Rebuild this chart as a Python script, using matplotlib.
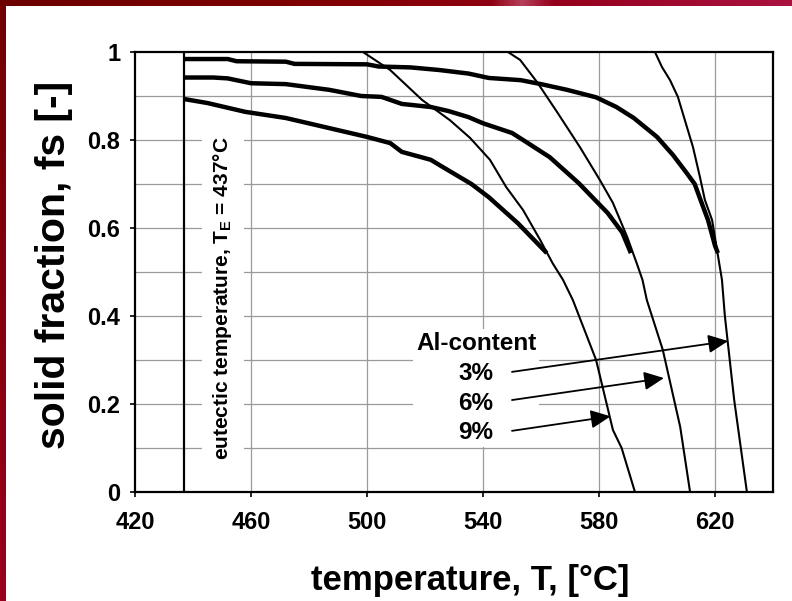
import numpy as np
import matplotlib

matplotlib.use("Agg")
import matplotlib.pyplot as plt
from matplotlib import font_manager
from matplotlib.colors import LinearSegmentedColormap

plt.rcParams.update(
    {
        "font.family": "Liberation Sans",
        "font.weight": "bold",
        "mathtext.fontset": "custom",
        "mathtext.rm": "Liberation Sans:bold",
        "mathtext.default": "rm",
    }
)

# ---------------------------------------------------------------------------
# Data (temperature in degC, solid fraction fs)
# ---------------------------------------------------------------------------

# thick curves (start at the eutectic temperature)
t_thick_3 = [437, 452, 455, 472, 475, 500, 504, 515, 525, 535, 542, 553, 560,
             569, 579, 586, 592, 600, 605.5, 610, 613, 615, 617.6, 620, 621]
fs_thick_3 = [0.984, 0.984, 0.979, 0.978, 0.973, 0.972, 0.967, 0.965, 0.959,
              0.951, 0.941, 0.936, 0.927, 0.914, 0.897, 0.875, 0.85, 0.807,
              0.766, 0.727, 0.70, 0.664, 0.618, 0.56, 0.543]

t_thick_6 = [437, 447, 452, 460, 472, 487, 498, 505, 512, 522, 528, 535, 540,
             550, 555, 563, 573, 583, 588, 591]
fs_thick_6 = [0.942, 0.942, 0.94, 0.929, 0.927, 0.914, 0.90, 0.898, 0.882,
              0.875, 0.866, 0.852, 0.838, 0.816, 0.795, 0.761, 0.702, 0.634,
              0.59, 0.543]

t_thick_9 = [437, 445, 458, 472, 487, 500, 508, 512, 522, 525, 536, 542, 552, 562]
fs_thick_9 = [0.893, 0.884, 0.864, 0.85, 0.827, 0.807, 0.793, 0.773, 0.755,
              0.743, 0.70, 0.67, 0.611, 0.543]

# thin curves (down to fs = 0)
t_thin_9 = [498.6, 508, 519, 528.6, 535.5, 542.4, 548, 553.8, 559.7, 564,
            567.6, 571, 579, 584.8, 587.8, 592.4]
fs_thin_9 = [1.0, 0.959, 0.891, 0.845, 0.805, 0.755, 0.693, 0.641, 0.573,
             0.52, 0.482, 0.436, 0.30, 0.141, 0.10, 0.0]

t_thin_6 = [548.6, 552.8, 558.6, 565.5, 573.4, 580.3, 584.8, 589.7, 593, 595,
            596.5, 602, 608, 611.4]
fs_thin_6 = [1.0, 0.982, 0.932, 0.864, 0.784, 0.709, 0.657, 0.58, 0.52, 0.482,
             0.436, 0.323, 0.148, 0.0]

t_thin_3 = [599.3, 601.7, 604.5, 607.2, 610.3, 612.4, 614.8, 616.5, 619, 620.7,
            622.4, 623.4, 626.6, 631]
fs_thin_3 = [1.0, 0.966, 0.936, 0.898, 0.83, 0.784, 0.716, 0.664, 0.618, 0.55,
             0.482, 0.40, 0.21, 0.0]

t_eutectic = 437

# arrows: (label end) -> (curve)
arrow_start = [(550, 0.273), (550, 0.209), (550, 0.139)]
arrow_end = [(624.5, 0.343), (602.4, 0.259), (584.0, 0.172)]
al_labels = ["3%", "6%", "9%"]

xticks = [420, 460, 500, 540, 580, 620]
yticks = [0, 0.2, 0.4, 0.6, 0.8, 1.0]
ytick_labels = ["0", "0.2", "0.4", "0.6", "0.8", "1"]
ygrid = [0.1, 0.3, 0.5, 0.7, 0.9]

# ---------------------------------------------------------------------------
# Figure
# ---------------------------------------------------------------------------

names = {f.name for f in font_manager.fontManager.ttflist}
narrow = "Liberation Sans Narrow" in names
x_family = "Liberation Sans Narrow" if narrow else "Liberation Sans"
xtick_size = 20 if narrow else 17
xlabel_size = 29 if narrow else 25

W, H = 792, 601
fig = plt.figure(figsize=(W / 100, H / 100), dpi=100)
ax = fig.add_axes([135 / W, 1 - 492 / H, (773 - 135) / W, (492 - 52) / H])

grid_kw = dict(color="#9a9a9a", lw=0.9, zorder=0)
for x in xticks[1:]:
    ax.axvline(x, **grid_kw)
for y in yticks[1:-1] + ygrid:
    ax.axhline(y, **grid_kw)

ax.axvline(t_eutectic, color="k", lw=1.6, zorder=3)

thick = dict(color="k", lw=3.2, solid_capstyle="butt", zorder=4)
thin = dict(color="k", lw=1.5, zorder=4)
ax.plot(t_thick_3, fs_thick_3, **thick)
ax.plot(t_thick_6, fs_thick_6, **thick)
ax.plot(t_thick_9, fs_thick_9, **thick)
ax.plot(t_thin_3, fs_thin_3, **thin)
ax.plot(t_thin_6, fs_thin_6, **thin)
ax.plot(t_thin_9, fs_thin_9, **thin)

ax.text(
    450.3, 0.44,
    r"eutectic temperature, T$_{\mathdefault{E}}$ = 437°C",
    rotation=90, ha="center", va="center", fontsize=15, fontweight="bold",
    bbox=dict(boxstyle="square,pad=0.45", fc="white", ec="none"), zorder=2,
)

ax.text(
    537.6, 0.236, "Al-content\n" + "\n".join(al_labels),
    ha="center", va="center", multialignment="center", fontsize=17.5,
    fontweight="bold", linespacing=1.38,
    bbox=dict(boxstyle="square,pad=0.12", fc="white", ec="none"), zorder=2,
)

for (x0, y0), (x1, y1) in zip(arrow_start, arrow_end):
    ax.annotate(
        "", xy=(x1, y1), xytext=(x0, y0),
        arrowprops=dict(arrowstyle="-|>,head_length=0.6,head_width=0.28",
                        mutation_scale=20, color="k", lw=1.3,
                        shrinkA=0, shrinkB=0),
        zorder=5,
    )

ax.set_xlim(420, 640)
ax.set_ylim(0, 1)
ax.set_xticks(xticks)
ax.set_yticks(yticks)
ax.set_yticklabels(ytick_labels)
for s in ax.spines.values():
    s.set_linewidth(1.6)
    s.set_zorder(6)
ax.tick_params(axis="both", direction="out", length=3.6, width=1.2)
ax.tick_params(axis="y", labelsize=17, pad=7)
ax.tick_params(axis="x", pad=10)
for lab in ax.get_xticklabels():
    lab.set_fontfamily(x_family)
    lab.set_fontsize(xtick_size)
    lab.set_fontweight("bold")

fig.text(470 / W, 1 - 590 / H, "temperature, T, [°C]", ha="center",
         va="baseline", fontsize=xlabel_size, fontweight="bold",
         family=x_family)
fig.text(54 / W, 1 - 265 / H, "solid fraction, fs [-]", rotation=90,
         ha="center", va="center", fontsize=29.5, fontweight="bold")

# dark red frame on top and left edges
top_cmap = LinearSegmentedColormap.from_list(
    "top", [(0, "#6c0000"), (0.35, "#7c0000"), (0.62, "#8e0010"),
            (0.66, "#b5405a"), (0.7, "#94001c"), (1, "#aa1240")])
left_cmap = LinearSegmentedColormap.from_list(
    "left", [(0, "#720000"), (1, "#9a001c")])
grad = np.linspace(0, 1, 256)
ax_top = fig.add_axes([0, 1 - 6 / H, 1, 6 / H])
ax_top.imshow(grad[None, :], cmap=top_cmap, aspect="auto")
ax_top.set_axis_off()
ax_left = fig.add_axes([0, 0, 6 / W, 1 - 6 / H])
ax_left.imshow(grad[:, None], cmap=left_cmap, aspect="auto")
ax_left.set_axis_off()

fig.savefig("out.png", dpi=100)
